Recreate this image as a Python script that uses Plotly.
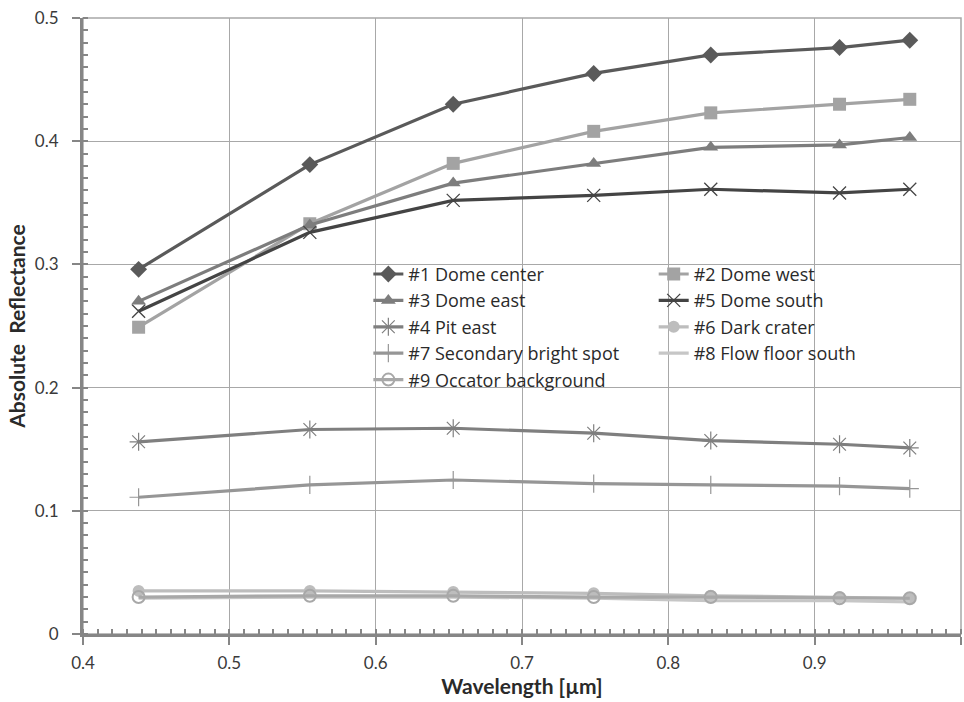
import plotly.graph_objects as go

wavelength = [0.438, 0.555, 0.653, 0.749, 0.829, 0.917, 0.965]

dome_center = [0.296, 0.381, 0.430, 0.455, 0.470, 0.476, 0.482]
dome_west = [0.249, 0.333, 0.382, 0.408, 0.423, 0.430, 0.434]
dome_east = [0.270, 0.332, 0.366, 0.382, 0.395, 0.397, 0.403]
dome_south = [0.262, 0.326, 0.352, 0.356, 0.361, 0.358, 0.361]
pit_east = [0.156, 0.166, 0.167, 0.163, 0.157, 0.154, 0.151]
dark_crater = [0.035, 0.035, 0.034, 0.033, 0.031, 0.030, 0.029]
secondary_bright = [0.111, 0.121, 0.125, 0.122, 0.121, 0.120, 0.118]
flow_floor_south = [0.029, 0.030, 0.030, 0.029, 0.027, 0.027, 0.026]
occator_background = [0.030, 0.031, 0.031, 0.030, 0.030, 0.029, 0.029]

series = [
    ("#1 Dome center", dome_center, "#5a5a5a", "diamond", 13, 0, "legend"),
    ("#2 Dome west", dome_west, "#a3a3a3", "square", 13, 0, "legend2"),
    ("#3 Dome east", dome_east, "#7d7d7d", "triangle-up", 13, 0, "legend"),
    ("#5 Dome south", dome_south, "#444444", "x-thin-open", 13, 1.3, "legend2"),
    ("#4 Pit east", pit_east, "#7f7f7f", "asterisk-open", 15, 1.2, "legend"),
    ("#6 Dark crater", dark_crater, "#bdbdbd", "circle", 12, 0, "legend2"),
    ("#7 Secondary bright spot", secondary_bright, "#969696", "cross-thin-open", 13, 1.2, "legend"),
    ("#8 Flow floor south", flow_floor_south, "#c6c6c6", None, 0, 0, "legend2"),
    ("#9 Occator background", occator_background, "#a8a8a8", "circle-open", 12, 2, "legend"),
]

FONT = "Lato"
fig = go.Figure()
for name, vals, color, sym, size, mlw, leg in series:
    if sym is None:
        mode = "lines"
        marker = None
    else:
        mode = "lines+markers"
        marker = dict(symbol=sym, size=size, color=color,
                      line=dict(color=color, width=mlw))
    fig.add_trace(go.Scatter(x=wavelength, y=vals, name=name, mode=mode,
                             line=dict(color=color, width=3.2), marker=marker,
                             legend=leg))

axis_common = dict(
    showline=True, linecolor="#868686", linewidth=3,
    showgrid=True, gridcolor="#a8a8a8", gridwidth=1,
    ticks="outside", ticklen=8, tickwidth=2, tickcolor="#868686",
    minor=dict(dtick=0.01, ticks="inside", ticklen=5, tickwidth=2,
               tickcolor="#868686", showgrid=False),
    tickfont=dict(family=FONT, size=17, color="#3a3a3a"),
    zeroline=False,
)

fig.update_xaxes(range=[0.4, 1.0], tick0=0.4, dtick=0.1, **axis_common,
                 ticklabelstandoff=4,
                 title=dict(text="<b>Wavelength [µm]</b>", standoff=6,
                            font=dict(family=FONT, size=21, color="#2a2a2a")))
fig.update_yaxes(range=[0, 0.5], tick0=0, dtick=0.1, **axis_common,
                 ticklabelstandoff=10,
                 title=dict(text="<b>Absolute  Reflectance</b>", standoff=4,
                            font=dict(family=FONT, size=21, color="#2a2a2a")))

fig.add_shape(type="rect", xref="paper", yref="paper", x0=0, y0=0, x1=1, y1=1,
              line=dict(color="#a8a8a8", width=1.5), layer="below")

legend_common = dict(bgcolor="rgba(0,0,0,0)",
                     font=dict(family="Open Sans", size=18, color="#2a2a2a"),
                     xanchor="left", yanchor="top", tracegroupgap=0, itemwidth=30)
fig.update_layout(
    width=964, height=702,
    margin=dict(l=83, r=3, t=18, b=68),
    paper_bgcolor="white", plot_bgcolor="white",
    font=dict(family=FONT),
    legend=dict(x=0.325, y=0.614, **legend_common),
    legend2=dict(x=0.65, y=0.614, **legend_common),
)

fig.write_html("out.html")
